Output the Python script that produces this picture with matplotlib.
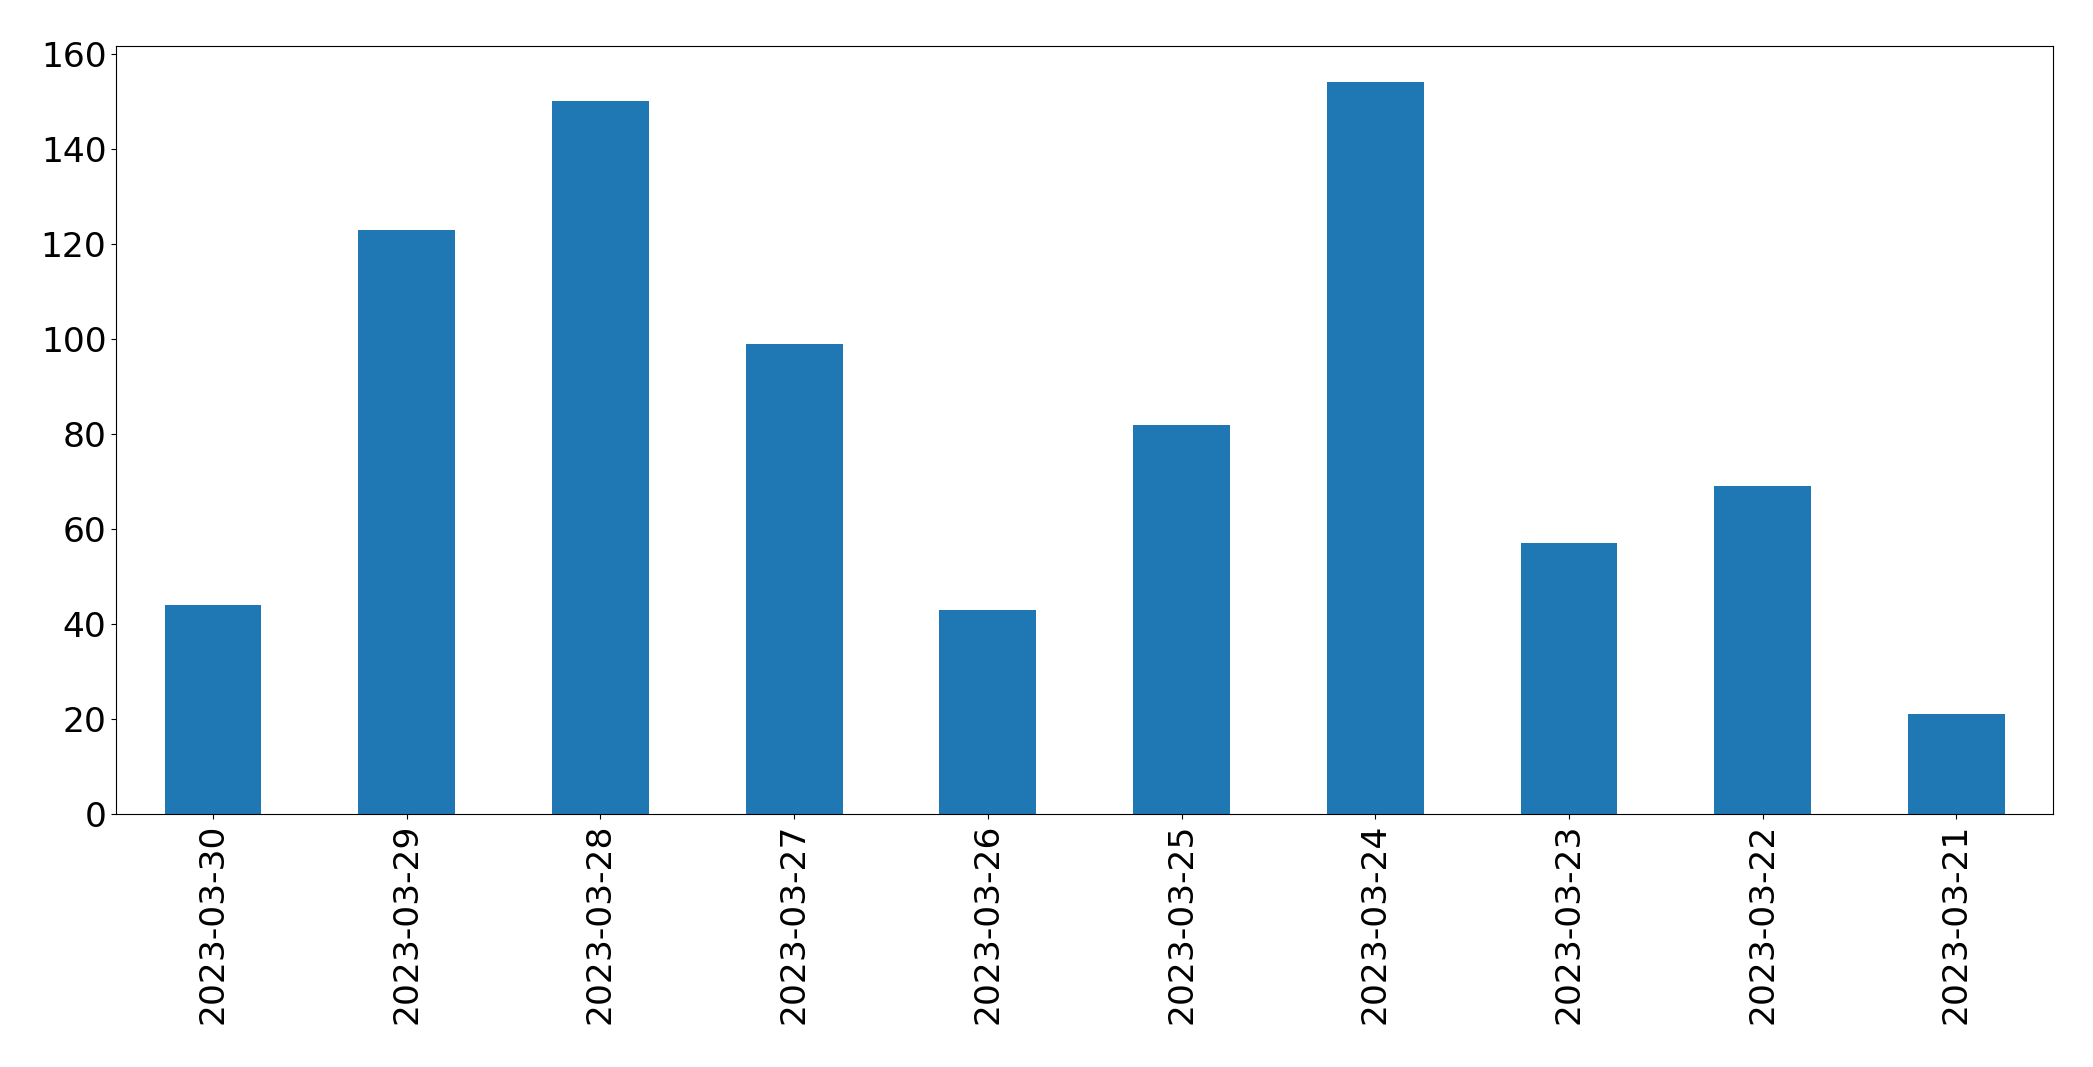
import matplotlib
matplotlib.use("Agg")
import matplotlib.pyplot as plt
import pandas as pd

dates = ["2023-03-30", "2023-03-29", "2023-03-28", "2023-03-27", "2023-03-26",
         "2023-03-25", "2023-03-24", "2023-03-23", "2023-03-22", "2023-03-21"]
counts = [44, 123, 150, 99, 43, 82, 154, 57, 69, 21]

s = pd.Series(counts, index=dates)

fig, ax = plt.subplots(figsize=(20.93, 10.67), dpi=100)
s.plot(kind="bar", ax=ax, color="#1f77b4", fontsize=24.8)
plt.subplots_adjust(left=0.0555, right=0.981, top=0.957, bottom=0.237)
plt.savefig("out.png", dpi=100)
